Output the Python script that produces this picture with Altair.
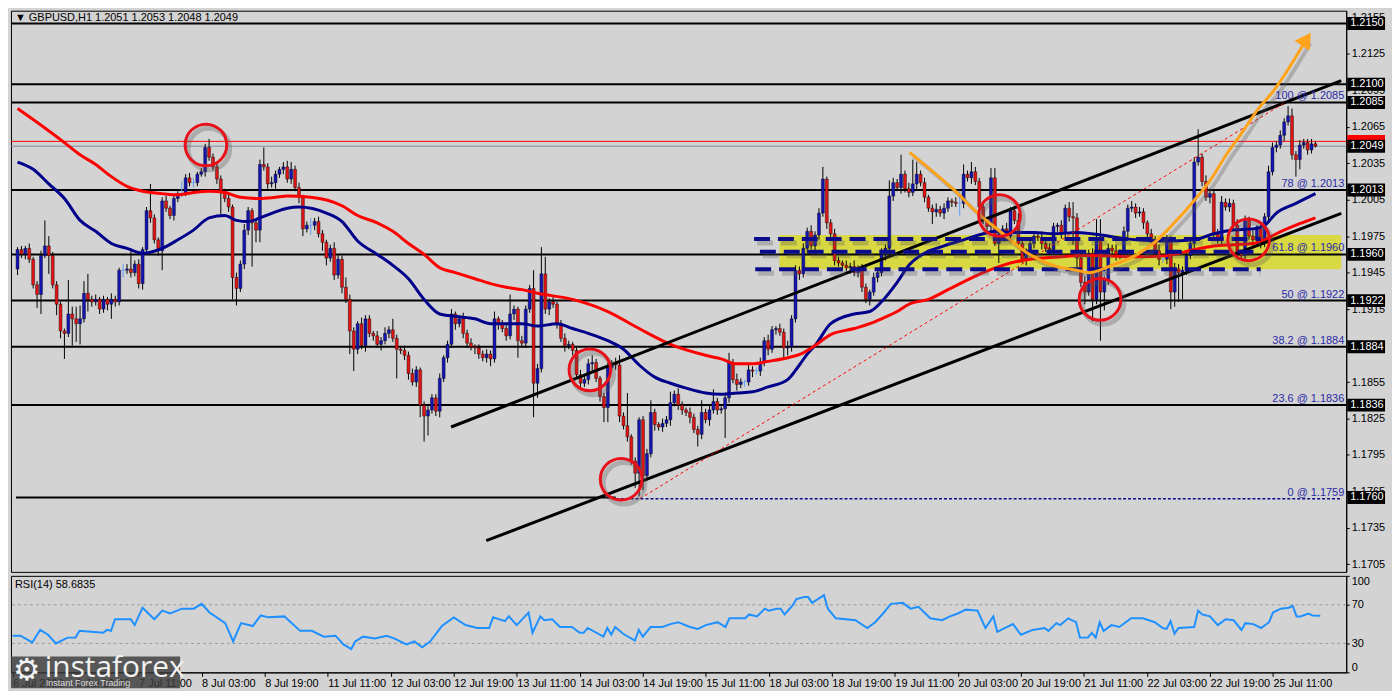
import altair as alt
import pandas as pd

# ---------------- data ----------------
symbol_title = "\u25BC GBPUSD,H1  1.2051 1.2053 1.2048 1.2049"
rsi_title = "RSI(14) 58.6835"

first_open = 1.1948
closes = [
    1.1964, 1.1960, 1.1965, 1.1956, 1.1935, 1.1927, 1.1959, 1.1967, 1.1959, 1.1935,
    1.1919, 1.1897, 1.1895, 1.1911, 1.1907, 1.1903, 1.1907, 1.1928, 1.1923, 1.1921,
    1.1923, 1.1915, 1.1923, 1.1919, 1.1923, 1.1921, 1.1947, 1.1947, 1.1948, 1.1945,
    1.1952, 1.1936, 1.1964, 1.1996, 1.1990, 1.1972, 1.1963, 1.2004, 1.1998, 1.1992,
    1.2006, 1.2010, 1.2010, 1.2023, 1.2019, 1.2019, 1.2026, 1.2028, 1.2048, 1.2040,
    1.2032, 1.2022, 1.2012, 1.2006, 1.1999, 1.1941, 1.1932, 1.1952, 1.1980, 1.1996,
    1.1986, 1.1980, 1.2034, 1.2032, 1.2018, 1.2019, 1.2026, 1.2030, 1.2032, 1.2022,
    1.2030, 1.2015, 1.2007, 1.1981, 1.1984, 1.1984, 1.1987, 1.1977, 1.1970, 1.1957,
    1.1965, 1.1943, 1.1956, 1.1933, 1.1923, 1.1897, 1.1882, 1.1903, 1.1885, 1.1907,
    1.1895, 1.1893, 1.1886, 1.1889, 1.1895, 1.1898, 1.1891, 1.1882, 1.1881, 1.1877,
    1.1862, 1.1855, 1.1865, 1.1836, 1.1827, 1.1832, 1.1842, 1.1831, 1.1858, 1.1875,
    1.1886, 1.1911, 1.1903, 1.1907, 1.1895, 1.1887, 1.1884, 1.1883, 1.1878, 1.1875,
    1.1878, 1.1874, 1.1907, 1.1903, 1.1899, 1.1893, 1.1911, 1.1915, 1.1889, 1.1887,
    1.1915, 1.1932, 1.1854, 1.1866, 1.1944, 1.1915, 1.1921, 1.1919, 1.1903, 1.1891,
    1.1885, 1.1886, 1.1881, 1.1861, 1.1854, 1.1857, 1.1870, 1.1871, 1.1858, 1.1843,
    1.1834, 1.1867, 1.1870, 1.1869, 1.1827, 1.1819, 1.1810, 1.1790, 1.1780, 1.1824,
    1.1778, 1.1796, 1.1830, 1.1820, 1.1818, 1.1821, 1.1824, 1.1838, 1.1845, 1.1836,
    1.1832, 1.1830, 1.1826, 1.1816, 1.1812, 1.1830, 1.1824, 1.1832, 1.1839, 1.1832,
    1.1833, 1.1842, 1.1871, 1.1857, 1.1853, 1.1855, 1.1855, 1.1865, 1.1864, 1.1864,
    1.1871, 1.1889, 1.1882, 1.1898, 1.1899, 1.1896, 1.1883, 1.1884, 1.1907, 1.1947,
    1.1944, 1.1965, 1.1979, 1.1967, 1.1976, 1.1994, 1.2022, 1.1986, 1.1977, 1.1955,
    1.1953, 1.1951, 1.1949, 1.1950, 1.1945, 1.1948, 1.1933, 1.1923, 1.1929, 1.1941,
    1.1945, 1.1960, 1.1965, 1.2008, 1.2019, 1.2015, 1.2026, 1.2014, 1.2011, 1.2018,
    1.2026, 1.2019, 1.2007, 1.1998, 1.1995, 1.1997, 1.1994, 1.1998, 1.2004, 1.2003,
    1.2002, 1.2002, 1.2026, 1.2023, 1.2028, 1.2020, 1.1999, 1.1988, 1.1983, 1.2023,
    1.1969, 1.1977, 1.1981, 1.1975, 1.1996, 1.1988, 1.1969, 1.1956, 1.1961, 1.1969,
    1.1975, 1.1974, 1.1969, 1.1965, 1.1964, 1.1983, 1.1984, 1.1977, 1.1998, 1.1991,
    1.1990, 1.1957, 1.1937, 1.1929, 1.1961, 1.1923, 1.1973, 1.1929, 1.1939, 1.1965,
    1.1963, 1.1960, 1.1961, 1.1979, 1.1998, 1.1999, 1.1994, 1.1995, 1.1986, 1.1977,
    1.1972, 1.1963, 1.1956, 1.1956, 1.1972, 1.1929, 1.1948, 1.1945, 1.1947, 1.1959,
    1.1969, 1.2036, 1.2040, 1.2020, 1.2007, 1.2010, 1.1977, 1.1972, 1.2003, 1.1999,
    1.2002, 1.1984, 1.1961, 1.1959, 1.1988, 1.1975, 1.1972, 1.1981, 1.1969, 1.1991,
    1.2028, 1.2048, 1.2050, 1.2058, 1.2069, 1.2074, 1.2042, 1.2038, 1.2050, 1.2052,
    1.2046, 1.2051, 1.2049,
]
upper_wick_pips = [
    2, 3, 2, 4, 2, 3, 4, 21, 8, 3,
    3, 2, 2, 28, 6, 10, 11, 10, 16, 3,
    4, 2, 3, 2, 5, 3, 2, 5, 4, 17,
    3, 4, 2, 3, 22, 3, 2, 3, 4, 2,
    3, 2, 10, 3, 4, 4, 2, 3, 3, 7,
    3, 4, 3, 2, 3, 2, 4, 3, 5, 3,
    2, 3, 4, 14, 3, 5, 3, 2, 4, 5,
    6, 3, 4, 2, 3, 6, 3, 4, 3, 2,
    3, 5, 4, 3, 8, 4, 3, 2, 5, 3,
    3, 2, 4, 3, 5, 3, 9, 3, 2, 4,
    3, 4, 3, 2, 3, 5, 3, 3, 4, 2,
    3, 4, 2, 3, 5, 3, 4, 2, 3, 3,
    4, 3, 6, 2, 3, 4, 16, 3, 2, 4,
    3, 3, 15, 4, 22, 14, 3, 5, 2, 3,
    4, 3, 2, 3, 4, 3, 4, 6, 3, 2,
    3, 4, 3, 5, 8, 3, 27, 2, 3, 2,
    3, 4, 10, 3, 2, 4, 3, 9, 3, 5,
    3, 2, 4, 3, 3, 10, 3, 4, 10, 3,
    2, 4, 8, 3, 5, 3, 2, 4, 3, 3,
    4, 3, 5, 3, 2, 4, 3, 5, 3, 4,
    3, 4, 3, 5, 3, 4, 10, 2, 3, 4,
    3, 2, 4, 3, 5, 3, 4, 3, 2, 4,
    3, 5, 3, 13, 4, 3, 16, 3, 5, 20,
    10, 3, 4, 2, 3, 5, 3, 4, 3, 2,
    4, 10, 8, 3, 8, 4, 3, 5, 3, 8,
    8, 4, 3, 5, 3, 4, 6, 3, 4, 3,
    4, 3, 5, 3, 4, 3, 2, 4, 3, 5,
    12, 4, 3, 5, 3, 4, 16, 16, 3, 4,
    3, 5, 3, 4, 3, 5, 3, 4, 3, 2,
    4, 3, 5, 3, 4, 3, 5, 4, 3, 4,
    3, 4, 23, 3, 5, 4, 3, 4, 5, 3,
    4, 3, 5, 3, 4, 3, 5, 3, 4, 3,
    5, 4, 3, 4, 3, 8, 6, 3, 4, 3,
    3, 4, 2,
]
lower_wick_pips = [
    5, 3, 4, 3, 3, 11, 16, 2, 15, 3,
    9, 6, 21, 3, 22, 15, 17, 3, 10, 4,
    3, 4, 3, 5, 12, 4, 3, 6, 3, 4,
    3, 4, 5, 3, 4, 3, 4, 16, 3, 3,
    4, 3, 3, 2, 3, 4, 3, 2, 4, 3,
    3, 4, 19, 3, 4, 18, 14, 3, 4, 4,
    36, 10, 10, 3, 4, 3, 5, 3, 4, 3,
    4, 3, 5, 6, 3, 8, 4, 3, 7, 6,
    3, 4, 3, 5, 3, 19, 18, 4, 3, 5,
    3, 4, 3, 5, 3, 4, 3, 24, 3, 4,
    5, 3, 4, 10, 21, 16, 3, 4, 5, 3,
    4, 3, 5, 3, 4, 4, 3, 5, 4, 3,
    4, 6, 3, 5, 3, 4, 3, 5, 14, 3,
    4, 3, 28, 12, 3, 4, 5, 3, 4, 3,
    5, 3, 4, 3, 5, 3, 4, 6, 3, 4,
    12, 12, 3, 4, 5, 3, 4, 3, 12, 19,
    12, 4, 3, 5, 3, 4, 3, 5, 3, 4,
    4, 3, 5, 3, 10, 4, 3, 5, 3, 4,
    3, 24, 4, 3, 5, 3, 4, 3, 5, 3,
    4, 3, 5, 3, 4, 3, 8, 6, 4, 3,
    5, 3, 4, 3, 5, 4, 3, 5, 3, 4,
    3, 4, 3, 5, 3, 4, 4, 3, 5, 3,
    4, 3, 5, 3, 4, 3, 5, 3, 4, 3,
    5, 3, 4, 3, 10, 4, 3, 5, 3, 4,
    3, 10, 4, 3, 5, 3, 4, 3, 5, 4,
    2, 16, 4, 3, 5, 3, 4, 3, 5, 3,
    4, 3, 5, 3, 4, 3, 5, 4, 3, 4,
    22, 8, 4, 10, 3, 18, 4, 40, 15, 4,
    3, 5, 4, 3, 5, 3, 4, 3, 5, 6,
    4, 3, 5, 3, 4, 14, 12, 24, 22, 4,
    3, 5, 3, 4, 3, 5, 4, 3, 5, 3,
    4, 3, 5, 3, 4, 3, 5, 3, 4, 3,
    5, 3, 4, 3, 5, 3, 4, 14, 8, 3,
    4, 3, 1,
]

time_label_bars = [0, 16, 32, 48, 64, 80, 96, 112, 128, 144, 160, 176, 192, 208, 224,
                   240, 256, 272, 288, 304, 320]
time_labels = ["6 Jul 2022", "6 Jul 19:00", "7 Jul 11:00", "8 Jul 03:00", "8 Jul 19:00",
               "11 Jul 11:00", "12 Jul 03:00", "12 Jul 19:00", "13 Jul 11:00", "14 Jul 03:00",
               "14 Jul 19:00", "15 Jul 11:00", "18 Jul 03:00", "18 Jul 19:00", "19 Jul 11:00",
               "20 Jul 03:00", "20 Jul 19:00", "21 Jul 11:00", "22 Jul 03:00", "22 Jul 19:00",
               "25 Jul 11:00"]

ma_fast_bars = [0, 4, 8, 12, 16, 20, 24, 28, 32, 37, 41, 45, 49, 53, 56, 59, 62, 66, 69, 72,
                79, 83, 87, 92, 96, 100, 104, 108, 112, 117, 121, 125, 129, 133, 138, 142, 146,
                151, 155, 159, 163, 167, 171, 176, 180, 184, 188, 192, 197, 200, 202, 204, 208,
                214, 218, 221, 225, 228, 232, 237, 242, 247, 250, 255, 260, 265, 271, 277, 286,
                294, 301, 306, 311, 316, 319, 322, 327, 332]
ma_fast_values = [1.2036, 1.2030, 1.2018, 1.2006, 1.1988, 1.1979, 1.1969, 1.1965, 1.1961, 1.1965,
                  1.1972, 1.1980, 1.1990, 1.1992, 1.1988, 1.1987, 1.1990, 1.1995, 1.1998, 1.1999,
                  1.1994, 1.1987, 1.1971, 1.1960, 1.1951, 1.1940, 1.1923, 1.1911, 1.1909, 1.1907,
                  1.1903, 1.1903, 1.1903, 1.1901, 1.1903, 1.1899, 1.1895, 1.1889, 1.1882, 1.1869,
                  1.1859, 1.1854, 1.1850, 1.1846, 1.1845, 1.1846, 1.1847, 1.1851, 1.1857, 1.1869,
                  1.1878, 1.1885, 1.1903, 1.1911, 1.1913, 1.1921, 1.1937, 1.1951, 1.1961, 1.1967,
                  1.1972, 1.1977, 1.1979, 1.1978, 1.1978, 1.1977, 1.1978, 1.1976, 1.1972, 1.1971,
                  1.1972, 1.1977, 1.1980, 1.1981, 1.1984, 1.1994, 1.2002, 1.2010]
ma_slow_bars = [0, 7, 12, 16, 20, 24, 28, 32, 37, 41, 45, 49, 53, 57, 62, 66, 69, 75, 83, 87,
                92, 96, 100, 104, 108, 112, 117, 121, 125, 129, 133, 142, 151, 159, 167, 176,
                180, 184, 188, 192, 197, 201, 204, 208, 214, 218, 221, 225, 228, 233, 238, 243,
                247, 252, 257, 262, 267, 271, 277, 286, 294, 301, 306, 311, 316, 319, 322, 327, 332]
ma_slow_values = [1.2080, 1.2064, 1.2052, 1.2042, 1.2034, 1.2024, 1.2016, 1.2012, 1.2010, 1.2009,
                  1.2011, 1.2012, 1.2011, 1.2007, 1.2006, 1.2007, 1.2008, 1.2007, 1.2000, 1.1992,
                  1.1986, 1.1979, 1.1969, 1.1960, 1.1949, 1.1945, 1.1940, 1.1936, 1.1933, 1.1931,
                  1.1928, 1.1923, 1.1913, 1.1899, 1.1886, 1.1877, 1.1874, 1.1870, 1.1870, 1.1872,
                  1.1875, 1.1879, 1.1885, 1.1894, 1.1899, 1.1903, 1.1907, 1.1913, 1.1919, 1.1923,
                  1.1931, 1.1939, 1.1945, 1.1951, 1.1955, 1.1957, 1.1958, 1.1959, 1.1959, 1.1958,
                  1.1959, 1.1964, 1.1967, 1.1968, 1.1969, 1.1972, 1.1977, 1.1984, 1.1990]

rsi_bars = [0, 2, 5, 7, 9, 11, 14, 16, 17, 20, 23, 24, 25, 26, 30, 31, 33, 36, 38, 40,
            43, 46, 48, 50, 54, 56, 58, 61, 63, 65, 69, 73, 76, 79, 82, 84, 86, 87, 89, 92,
            95, 97, 100, 102, 104, 106, 109, 112, 115, 118, 121, 122, 125, 126, 128, 131, 132,
            134, 135, 137, 139, 142, 144, 145, 146, 150, 151, 152, 153, 155, 158, 159, 160,
            162, 165, 167, 169, 172, 174, 176, 179, 181, 182, 186, 187, 189, 191, 192, 194,
            195, 196, 198, 199, 201, 202, 203, 206, 207, 209, 214, 217, 219, 221, 223, 226,
            228, 230, 233, 236, 238, 240, 242, 245, 247, 249, 250, 252, 254, 256, 259, 262,
            263, 265, 266, 268, 270, 271, 273, 274, 275, 276, 277, 279, 281, 284, 287, 290,
            292, 293, 294, 295, 296, 300, 301, 302, 304, 306, 308, 310, 312, 313, 315, 317,
            319, 320, 322, 324, 325, 326, 327, 329, 330, 332]
rsi_values = [38, 38, 31, 44, 39, 30, 36, 36, 43, 42, 41, 44, 43, 55, 55, 49, 67, 55, 64, 61,
              66, 66, 71, 62, 51, 32, 51, 48, 59, 57, 58, 43, 43, 37, 38, 29, 24, 32, 37, 35,
              38, 35, 29, 32, 26, 32, 48, 57, 49, 46, 46, 57, 53, 58, 49, 62, 41, 58, 54, 55,
              47, 47, 41, 41, 46, 37, 46, 39, 47, 40, 33, 44, 37, 47, 47, 50, 52, 47, 45, 49,
              52, 47, 56, 56, 60, 58, 66, 64, 66, 66, 60, 69, 76, 78, 78, 72, 80, 66, 56, 54,
              46, 52, 61, 71, 72, 66, 68, 56, 54, 58, 61, 65, 64, 46, 58, 42, 46, 50, 39, 44,
              46, 43, 51, 49, 56, 52, 36, 36, 41, 36, 52, 43, 49, 47, 56, 56, 52, 46, 45, 53,
              40, 46, 47, 64, 60, 58, 49, 55, 54, 44, 51, 50, 46, 52, 62, 66, 67, 69, 58, 58,
              61, 59, 58.68]

level_prices = [1.2150, 1.2100, 1.2085, 1.2013, 1.1960, 1.1922, 1.1884, 1.1836]
box_prices = [1.2150, 1.2100, 1.2085, 1.2013, 1.1960, 1.1922, 1.1884, 1.1836, 1.1760]
low_level_price = 1.1760
ask_price = 1.2053
bid_price = 1.2049
fib_names = ["100", "78", "61.8", "50", "38.2", "23.6", "0"]
fib_prices = [1.2085, 1.2013, 1.1960, 1.1922, 1.1884, 1.1836, 1.1759]
price_ticks = [1.1705, 1.1735, 1.1765, 1.1795, 1.1825, 1.1855, 1.1885, 1.1915, 1.1945,
               1.1975, 1.2005, 1.2035, 1.2065, 1.2095, 1.2125, 1.2155]
rsi_ticks = [0, 30, 70, 100]
rsi_levels_values = [30, 70]

zone_start_bar = 194.9
zone_low, zone_high = 1.19478, 1.19759
dash_start_bars = [188.4, 189.9, 188.7]
dash_end_bar = 318.0
dash_prices = [1.19727, 1.19622, 1.19477]
channel_names = ["upper", "upper", "lower", "lower"]
channel_bars = [110.9, 338.6, 119.9, 338.6]
channel_prices = [1.1818, 1.2103, 1.17245, 1.19937]
fib_diag_bars = [159.2, 324.2]
fib_diag_prices = [1.1759, 1.2085]
fib0_start_bar = 153.0
circle_bars = [48.2, 146.4, 154.4, 251.2, 276.9, 314.9]
circle_prices = [1.2050, 1.1865, 1.1775, 1.1992, 1.1923, 1.1972]
curve_bars = [228.2, 234.9, 239.9, 244.9, 251.7, 258.4, 264.9, 270.9, 274.2, 279.9, 285.9,
              290.9, 295.9, 300.9, 304.9, 309.2, 313.4, 317.4, 320.9, 329.7]
curve_prices = [1.2044, 1.2026, 1.2012, 1.1996, 1.1978, 1.1961, 1.1951, 1.1947, 1.1945, 1.1951,
                1.1959, 1.1970, 1.1986, 1.2004, 1.2020, 1.2042, 1.2061, 1.2080, 1.2093, 1.2137]

# ---------------- layout / style ----------------
W = 1342
H_MAIN = 564
H_RSI = 97
X_DOMAIN = [-0.4, 338.6]
Y_DOMAIN = [1.16988, 1.21605]
BG = "#D3D3D3"
FONT = "Liberation Sans"
NAVY = "#0B0B8C"

xs = alt.Scale(domain=X_DOMAIN, nice=False, zero=False)
ys = alt.Scale(domain=Y_DOMAIN, nice=False, zero=False)
main_axis = alt.Axis(orient="right", values=price_ticks, format=".4f", title=None,
                     tickSize=3, labelPadding=2, grid=False, labelFontSize=11)


def X(field):
    return alt.X(field, type="quantitative", scale=xs, axis=None)


def Y(field):
    return alt.Y(field, type="quantitative", scale=ys, axis=main_axis)


# candles table
opens = [first_open] + closes[:-1]
rows = []
for i, (o, c, u, l) in enumerate(zip(opens, closes, upper_wick_pips, lower_wick_pips)):
    hi = max(o, c) + u / 10000.0
    lo = min(o, c) - l / 10000.0
    if abs(c - o) < 1e-9:
        kind, wick_col, body_col = "doji", "#5E9CF2", "#5E9CF2"
    elif c > o:
        kind, wick_col, body_col = "up", "#000000", "#1414B4"
    else:
        kind, wick_col, body_col = "down", "#000000", "#E01414"
    rows.append(dict(bar=i, open=o, close=c, high=hi, low=lo, kind=kind,
                     wick_col=wick_col, body_col=body_col))
candles = pd.DataFrame(rows)

zone = alt.Chart(pd.DataFrame({"bar": [zone_start_bar], "bar2": [X_DOMAIN[1]],
                               "lo": [zone_low], "hi": [zone_high]})).mark_rect(
    color="#D8D843").encode(x=X("bar"), x2="bar2", y=Y("lo"), y2="hi")

levels = alt.Chart(pd.DataFrame({"price": level_prices})).mark_rule(
    color="black", strokeWidth=2).encode(y=Y("price"))

low_level = alt.Chart(pd.DataFrame({"bar": [X_DOMAIN[0]], "bar2": [fib0_start_bar],
                                    "price": [low_level_price]})).mark_rule(
    color="black", strokeWidth=2).encode(x=X("bar"), x2="bar2", y=Y("price"))
fib0_line = alt.Chart(pd.DataFrame({"bar": [fib0_start_bar], "bar2": [X_DOMAIN[1]],
                                    "price": [fib_prices[-1]]})).mark_rule(
    color=NAVY, strokeWidth=1.5, strokeDash=[3, 2]).encode(x=X("bar"), x2="bar2", y=Y("price"))

ask_line = alt.Chart(pd.DataFrame({"price": [ask_price]})).mark_rule(
    color="#FF0000", strokeWidth=1).encode(y=Y("price"))
bid_line = alt.Chart(pd.DataFrame({"price": [bid_price]})).mark_rule(
    color="#7D8FA3", strokeWidth=1).encode(y=Y("price"))

wicks = alt.Chart(candles).mark_rule(strokeWidth=1).encode(
    x=X("bar"), y=Y("low"), y2="high", color=alt.Color("wick_col:N", scale=None))
bodies = alt.Chart(candles).transform_filter("datum.kind != 'doji'").mark_bar(
    size=3, stroke="#000000", strokeWidth=0.4).encode(
    x=X("bar"), y=Y("open"), y2="close", color=alt.Color("body_col:N", scale=None))
dojis = alt.Chart(candles).transform_filter("datum.kind == 'doji'").mark_point(
    shape="stroke", size=16, strokeWidth=1, color="#5E9CF2").encode(x=X("bar"), y=Y("close"))

ma_fast = alt.Chart(pd.DataFrame({"bar": ma_fast_bars, "v": ma_fast_values})).mark_line(
    color="#00008B", strokeWidth=3, interpolate="monotone").encode(x=X("bar"), y=Y("v"))
ma_slow = alt.Chart(pd.DataFrame({"bar": ma_slow_bars, "v": ma_slow_values})).mark_line(
    color="#FF0000", strokeWidth=3, interpolate="monotone").encode(x=X("bar"), y=Y("v"))

channel = alt.Chart(pd.DataFrame({"name": channel_names, "bar": channel_bars,
                                  "price": channel_prices})).mark_line(
    color="black", strokeWidth=3).encode(x=X("bar"), y=Y("price"), detail="name:N")

fib_diag = alt.Chart(pd.DataFrame({"bar": fib_diag_bars, "price": fib_diag_prices})).mark_line(
    color="#FF0000", strokeWidth=1, strokeDash=[3, 3]).encode(x=X("bar"), y=Y("price"))

dash_df = pd.DataFrame({"bar": dash_start_bars, "bar2": [dash_end_bar] * 3, "price": dash_prices})
dash_shadow = alt.Chart(dash_df).mark_rule(
    color="#555555", opacity=0.3, strokeWidth=5, strokeDash=[16, 8], xOffset=3, yOffset=4).encode(
    x=X("bar"), x2="bar2", y=Y("price"))
dashes = alt.Chart(dash_df).mark_rule(
    color=NAVY, strokeWidth=4, strokeDash=[16, 8]).encode(x=X("bar"), x2="bar2", y=Y("price"))

curve_df = pd.DataFrame({"bar": curve_bars, "price": curve_prices})
curve_shadow = alt.Chart(curve_df).mark_line(
    color="#555555", opacity=0.3, strokeWidth=4, interpolate="monotone",
    xOffset=4, yOffset=4).encode(x=X("bar"), y=Y("price"))
curve = alt.Chart(curve_df).mark_line(
    color="#FFA31A", strokeWidth=3, interpolate="monotone").encode(x=X("bar"), y=Y("price"))
arrow_head = alt.Chart(curve_df.tail(1)).mark_point(
    shape="triangle-up", angle=34, size=330, filled=True, opacity=1,
    color="#FFA31A").encode(x=X("bar"), y=Y("price"))

circ_df = pd.DataFrame({"bar": circle_bars, "price": circle_prices})
circ_shadow = alt.Chart(circ_df).mark_point(
    shape="circle", size=1750, filled=False, strokeWidth=5, color="#555555",
    opacity=0.3, xOffset=3, yOffset=4).encode(x=X("bar"), y=Y("price"))
circles = alt.Chart(circ_df).mark_point(
    shape="circle", size=1750, filled=False, strokeWidth=3, color="#E8101A",
    opacity=1).encode(x=X("bar"), y=Y("price"))

fib_df = pd.DataFrame({"price": fib_prices,
                       "label": [f"{n} @ {p:.4f}" for n, p in zip(fib_names, fib_prices)]})
fib_text = alt.Chart(fib_df).mark_text(
    align="right", baseline="bottom", dy=-1, font=FONT, fontSize=11, color="#2A2AA8").encode(
    x=alt.value(W - 2), y=Y("price"), text="label:N")

box_df = pd.DataFrame({"price": box_prices, "label": [f"{p:.4f}" for p in box_prices]})
boxes = alt.Chart(box_df).mark_rule(color="black", strokeWidth=13, strokeCap="butt").encode(
    x=alt.value(W + 1), x2=alt.value(W + 39), y=Y("price"))
box_text = alt.Chart(box_df).mark_text(
    align="left", baseline="middle", font=FONT, fontSize=11, color="white").encode(
    x=alt.value(W + 4), y=Y("price"), text="label:N")
ask_box = alt.Chart(pd.DataFrame({"price": [ask_price], "label": [f"{ask_price:.4f}"]})).mark_rule(
    color="#FF0000", strokeWidth=13, strokeCap="butt").encode(
    x=alt.value(W + 1), x2=alt.value(W + 39), y=Y("price"))
bid_df = pd.DataFrame({"price": [bid_price], "label": [f"{bid_price:.4f}"]})
bid_box = alt.Chart(bid_df).mark_rule(color="black", strokeWidth=13, strokeCap="butt").encode(
    x=alt.value(W + 1), x2=alt.value(W + 39), y=Y("price"))
bid_text = alt.Chart(bid_df).mark_text(
    align="left", baseline="middle", font=FONT, fontSize=11, color="white").encode(
    x=alt.value(W + 4), y=Y("price"), text="label:N")

title_text = alt.Chart(pd.DataFrame({"t": [symbol_title]})).mark_text(
    align="left", baseline="middle", font=FONT, fontSize=11, color="black").encode(
    x=alt.value(4), y=alt.value(7), text="t:N")

main = alt.layer(
    zone, levels, low_level, fib0_line, ask_line, bid_line,
    wicks, bodies, dojis, ma_fast, ma_slow, channel, fib_diag,
    dash_shadow, dashes, curve_shadow, curve, arrow_head, circ_shadow, circles,
    fib_text, boxes, box_text, ask_box, bid_box, bid_text, title_text,
).properties(width=W, height=H_MAIN)

# ---------------- RSI panel ----------------
labels_js = "[" + ",".join("'" + s + "'" for s in time_labels) + "]"
bars_js = "[" + ",".join(str(b) for b in time_label_bars) + "]"
x_axis = alt.Axis(values=time_label_bars, labelExpr=f"{labels_js}[indexof({bars_js}, datum.value)]",
                  labelAlign="left", labelPadding=1, tickSize=4, labelOverlap=False,
                  labelFlush=False, labelBound=False, title=None, grid=False, labelFontSize=11)
rs = alt.Scale(domain=[0, 100], nice=False, zero=False)
rsi_axis = alt.Axis(orient="right", values=rsi_ticks, title=None, tickSize=3, labelFlush=True,
                    grid=False, labelFontSize=11)
rsi_df = pd.DataFrame({"bar": rsi_bars, "rsi": rsi_values})

rsi_levels = alt.Chart(pd.DataFrame({"lvl": rsi_levels_values})).mark_rule(
    color="#9A9A9A", strokeWidth=1, strokeDash=[3, 3]).encode(
    y=alt.Y("lvl:Q", scale=rs, axis=rsi_axis))
rsi_line = alt.Chart(rsi_df).mark_line(color="#1E90FF", strokeWidth=2).encode(
    x=alt.X("bar:Q", scale=xs, axis=x_axis),
    y=alt.Y("rsi:Q", scale=rs, axis=rsi_axis))
rsi_label = alt.Chart(pd.DataFrame({"t": [rsi_title]})).mark_text(
    align="left", baseline="middle", font=FONT, fontSize=11, color="black").encode(
    x=alt.value(4), y=alt.value(9), text="t:N")

logo_df = pd.DataFrame({"name": ["instaforex"], "tag": ["Instant Forex Trading"], "gear": ["\u2699"]})
logo_box = alt.Chart(logo_df).mark_rect(color="#3C3C3C", opacity=0.82).encode(
    x=alt.value(0), x2=alt.value(170), y=alt.value(81), y2=alt.value(113))
logo_gear = alt.Chart(logo_df).mark_text(
    align="left", baseline="middle", font="DejaVu Sans", fontSize=31, color="#F2F2F2").encode(
    x=alt.value(2), y=alt.value(96), text="gear:N")
logo_name = alt.Chart(logo_df).mark_text(
    align="left", baseline="alphabetic", font="Open Sans", fontSize=30, color="#F2F2F2").encode(
    x=alt.value(34), y=alt.value(102), text="name:N")
logo_tag = alt.Chart(logo_df).mark_text(
    align="left", baseline="alphabetic", font=FONT, fontSize=9, color="#DDDDDD").encode(
    x=alt.value(35), y=alt.value(111), text="tag:N")

rsi_panel = alt.layer(rsi_levels, rsi_line, rsi_label, logo_box, logo_gear, logo_name, logo_tag
                      ).properties(width=W, height=H_RSI)

chart = alt.vconcat(main, rsi_panel, spacing=2).properties(
    background=BG, padding=0
).configure_view(
    stroke="black", strokeWidth=1, fill=None
).configure_axis(
    labelFont=FONT, labelColor="black", domainColor="black", tickColor="black",
    domainWidth=1, tickWidth=1
)

chart.save("out.html", embed_options={"renderer": "svg", "actions": False})
